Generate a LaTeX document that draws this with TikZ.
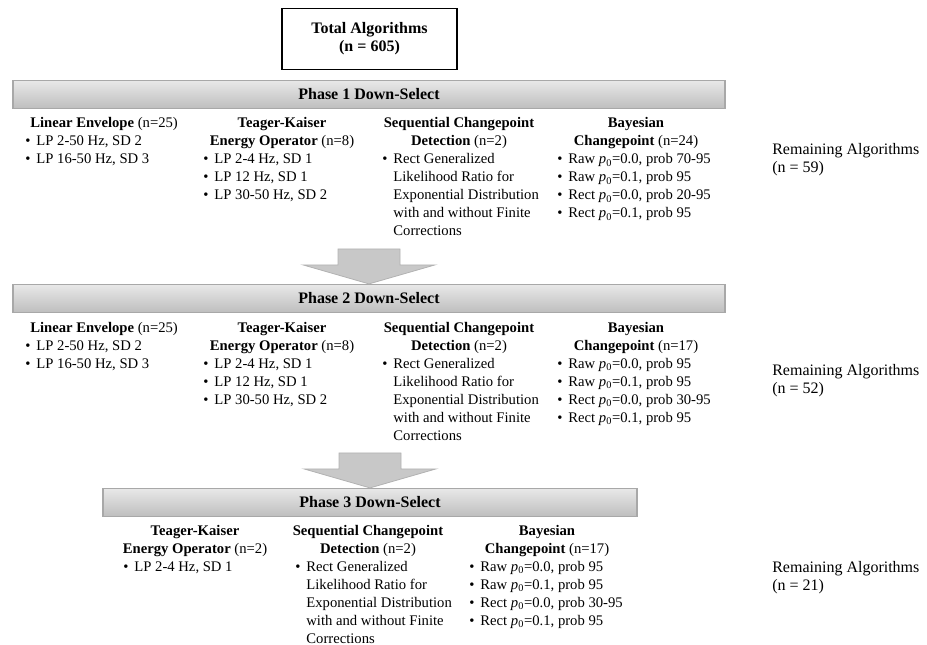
\documentclass[tikz,border=0pt]{standalone}
\usepackage{fontspec}
\setmainfont{Liberation Serif}
\usetikzlibrary{positioning}
\definecolor{barline}{RGB}{168,168,168}
\definecolor{bartop}{RGB}{232,232,232}
\definecolor{barbottom}{RGB}{190,190,190}
\definecolor{arrowfill}{RGB}{200,200,200}
\definecolor{arrowline}{RGB}{178,178,178}

\begin{document}
\begin{tikzpicture}[x=0.75pt,y=-0.75pt,
    every node/.style={inner sep=0pt,font=\fontsize{11}{13.5}\selectfont},
    total/.style={draw,line width=1.1pt,minimum width=131pt,minimum height=46pt,
      align=center,font=\fontsize{12}{13.5}\selectfont\bfseries},
    bar/.style={draw=barline,line width=0.9pt,top color=bartop,bottom color=barbottom,
      minimum height=21pt,font=\fontsize{12}{14}\selectfont\bfseries},
    head/.style={anchor=base},
    items/.style={anchor=base west},
    remain/.style={anchor=base west,font=\fontsize{12}{13.5}\selectfont},
    bigarrow/.style={draw=arrowline,fill=arrowfill,line width=0.6pt}]
    \useasboundingbox (0,0) rectangle (927,645);

    \node[total] (total) at (369.5,39) {Total Algorithms\\(n = 605)};

    % phase 1
    \node[bar,minimum width=534pt] (phase1) at (369,94.5) {Phase 1 Down-Select};
    \node[items] (p1lin) at (30,128) {\textbf{Linear Envelope} (n=25)};
    \node[items] (p1linl) at (25,146) {\begin{tabular}[t]{@{}l@{\hspace{4.5pt}}l@{}}
      \textbullet & LP 2-50 Hz, SD 2\\ \textbullet & LP 16-50 Hz, SD 3\end{tabular}};
    \node[head] (p1tk) at (282,128) {\begin{tabular}[t]{@{}c@{}}
      \textbf{Teager-Kaiser}\\ \textbf{Energy Operator} (n=8)\end{tabular}};
    \node[items] (p1tkl) at (203,164) {\begin{tabular}[t]{@{}l@{\hspace{4.5pt}}l@{}}
      \textbullet & LP 2-4 Hz, SD 1\\ \textbullet & LP 12 Hz, SD 1\\
      \textbullet & LP 30-50 Hz, SD 2\end{tabular}};
    \node[head] (p1seq) at (459,128) {\begin{tabular}[t]{@{}c@{}}
      \textbf{Sequential Changepoint}\\ \textbf{Detection} (n=2)\end{tabular}};
    \node[items] (p1seql) at (382,164) {\begin{tabular}[t]{@{}l@{\hspace{4.5pt}}l@{}}
      \textbullet & Rect Generalized\\ & Likelihood Ratio for\\ & Exponential Distribution\\
      & with and without Finite\\ & Corrections\end{tabular}};
    \node[head] (p1bay) at (636,128) {\begin{tabular}[t]{@{}c@{}}
      \textbf{Bayesian}\\ \textbf{Changepoint} (n=24)\end{tabular}};
    \node[items] (p1bayl) at (557,164) {\begin{tabular}[t]{@{}l@{\hspace{4.5pt}}l@{}}
      \textbullet & Raw \textit{p}\textsubscript{0}=0.0, prob 70-95\\
      \textbullet & Raw \textit{p}\textsubscript{0}=0.1, prob 95\\
      \textbullet & Rect \textit{p}\textsubscript{0}=0.0, prob 20-95\\
      \textbullet & Rect \textit{p}\textsubscript{0}=0.1, prob 95\end{tabular}};
    \node[remain] (p1rest) at (772,155) {\begin{tabular}[t]{@{}l@{}}
      Remaining Algorithms\\ (n = 59)\end{tabular}};

    % phase 2
    \node[bar,minimum width=534pt] (phase2) at (369,298.5) {Phase 2 Down-Select};
    \node[items] (p2lin) at (30,332) {\textbf{Linear Envelope} (n=25)};
    \node[items] (p2linl) at (25,350) {\begin{tabular}[t]{@{}l@{\hspace{4.5pt}}l@{}}
      \textbullet & LP 2-50 Hz, SD 2\\ \textbullet & LP 16-50 Hz, SD 3\end{tabular}};
    \node[head] (p2tk) at (282,332) {\begin{tabular}[t]{@{}c@{}}
      \textbf{Teager-Kaiser}\\ \textbf{Energy Operator} (n=8)\end{tabular}};
    \node[items] (p2tkl) at (203,368) {\begin{tabular}[t]{@{}l@{\hspace{4.5pt}}l@{}}
      \textbullet & LP 2-4 Hz, SD 1\\ \textbullet & LP 12 Hz, SD 1\\
      \textbullet & LP 30-50 Hz, SD 2\end{tabular}};
    \node[head] (p2seq) at (459,332) {\begin{tabular}[t]{@{}c@{}}
      \textbf{Sequential Changepoint}\\ \textbf{Detection} (n=2)\end{tabular}};
    \node[items] (p2seql) at (382,368) {\begin{tabular}[t]{@{}l@{\hspace{4.5pt}}l@{}}
      \textbullet & Rect Generalized\\ & Likelihood Ratio for\\ & Exponential Distribution\\
      & with and without Finite\\ & Corrections\end{tabular}};
    \node[head] (p2bay) at (636,332) {\begin{tabular}[t]{@{}c@{}}
      \textbf{Bayesian}\\ \textbf{Changepoint} (n=17)\end{tabular}};
    \node[items] (p2bayl) at (557,368) {\begin{tabular}[t]{@{}l@{\hspace{4.5pt}}l@{}}
      \textbullet & Raw \textit{p}\textsubscript{0}=0.0, prob 95\\
      \textbullet & Raw \textit{p}\textsubscript{0}=0.1, prob 95\\
      \textbullet & Rect \textit{p}\textsubscript{0}=0.0, prob 30-95\\
      \textbullet & Rect \textit{p}\textsubscript{0}=0.1, prob 95\end{tabular}};
    \node[remain] (p2rest) at (772,375) {\begin{tabular}[t]{@{}l@{}}
      Remaining Algorithms\\ (n = 52)\end{tabular}};

    % phase 3
    \node[bar,minimum width=400.5pt] (phase3) at (370,502.5) {Phase 3 Down-Select};
    \node[head] (p3tk) at (195,535) {\begin{tabular}[t]{@{}c@{}}
      \textbf{Teager-Kaiser}\\ \textbf{Energy Operator} (n=2)\end{tabular}};
    \node[items] (p3tkl) at (123,571) {\begin{tabular}[t]{@{}l@{\hspace{4.5pt}}l@{}}
      \textbullet & LP 2-4 Hz, SD 1\end{tabular}};
    \node[head] (p3seq) at (368,535) {\begin{tabular}[t]{@{}c@{}}
      \textbf{Sequential Changepoint}\\ \textbf{Detection} (n=2)\end{tabular}};
    \node[items] (p3seql) at (295,571) {\begin{tabular}[t]{@{}l@{\hspace{4.5pt}}l@{}}
      \textbullet & Rect Generalized\\ & Likelihood Ratio for\\ & Exponential Distribution\\
      & with and without Finite\\ & Corrections\end{tabular}};
    \node[head] (p3bay) at (547,535) {\begin{tabular}[t]{@{}c@{}}
      \textbf{Bayesian}\\ \textbf{Changepoint} (n=17)\end{tabular}};
    \node[items] (p3bayl) at (469,571) {\begin{tabular}[t]{@{}l@{\hspace{4.5pt}}l@{}}
      \textbullet & Raw \textit{p}\textsubscript{0}=0.0, prob 95\\
      \textbullet & Raw \textit{p}\textsubscript{0}=0.1, prob 95\\
      \textbullet & Rect \textit{p}\textsubscript{0}=0.0, prob 30-95\\
      \textbullet & Rect \textit{p}\textsubscript{0}=0.1, prob 95\end{tabular}};
    \node[remain] (p3rest) at (772,572) {\begin{tabular}[t]{@{}l@{}}
      Remaining Algorithms\\ (n = 21)\end{tabular}};

    % block arrows between the phases
    \draw[bigarrow,shift={(phase2.north)}] (-31,-35) -- (31,-35) -- (31,-19) -- (66,-19)
      -- (0,0) -- (-66,-19) -- (-31,-19) -- cycle;
    \draw[bigarrow,shift={(phase3.north)}] (-31,-35) -- (31,-35) -- (31,-19) -- (66,-19)
      -- (0,0) -- (-66,-19) -- (-31,-19) -- cycle;
\end{tikzpicture}
\end{document}
